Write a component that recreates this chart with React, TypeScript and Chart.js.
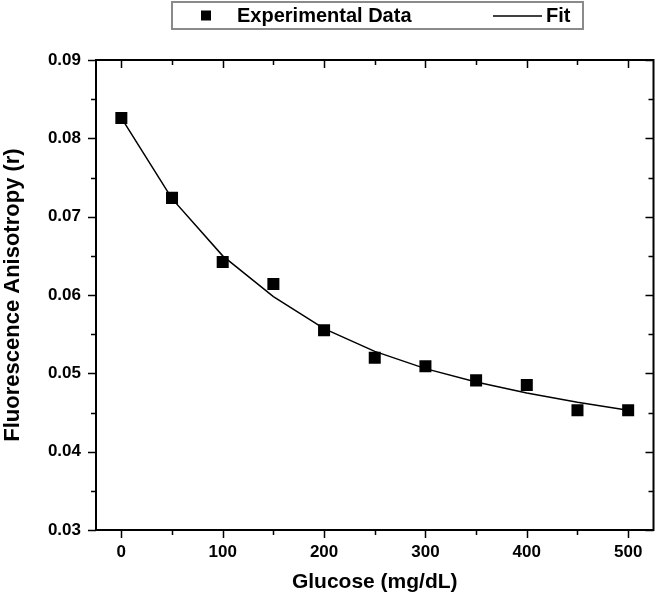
import React, { useEffect, useRef } from "react";
import { Chart, registerables } from "chart.js";

Chart.register(...registerables);

const glucose = [0, 50, 100, 150, 200, 250, 300, 350, 400, 450, 500];
const anisotropy = [0.0826, 0.0724, 0.0642, 0.0614, 0.0555, 0.052, 0.0509, 0.0491, 0.0485, 0.0453, 0.0453];
const fitValues = [0.0826, 0.0723, 0.065, 0.0598, 0.0557, 0.0528, 0.0506, 0.0489, 0.0475, 0.0463, 0.0453];
const xMajorTicks = [0, 100, 200, 300, 400, 500];
const xMinorTicks = [50, 150, 250, 350, 450];
const yMajorTicks = [0.03, 0.04, 0.05, 0.06, 0.07, 0.08, 0.09];
const yMinorTicks = [0.035, 0.045, 0.055, 0.065, 0.075, 0.085];
const seriesLabels = ["Experimental Data", "Fit"];

const FONT = "'Liberation Sans', Arial, sans-serif";

const framePlugin = {
  id: "frameTicks",
  afterDraw(chart: any) {
    const { ctx, chartArea } = chart;
    const xs = chart.scales.x;
    const ys = chart.scales.y;
    const { left, right, top, bottom } = chartArea;
    ctx.save();
    ctx.strokeStyle = "#000";
    ctx.lineWidth = 2;
    ctx.strokeRect(left, top, right - left, bottom - top);
    const major = 8;
    const minor = 5;
    ctx.lineWidth = 1.5;
    ctx.beginPath();
    const xTick = (v: number, len: number) => {
      const px = Math.round(xs.getPixelForValue(v)) + 0.5;
      ctx.moveTo(px, bottom);
      ctx.lineTo(px, bottom + len);
      ctx.moveTo(px, top);
      ctx.lineTo(px, top + len);
    };
    const yTick = (v: number, len: number) => {
      const py = Math.round(ys.getPixelForValue(v)) + 0.5;
      ctx.moveTo(left, py);
      ctx.lineTo(left - len, py);
      ctx.moveTo(right, py);
      ctx.lineTo(right - len, py);
    };
    xMajorTicks.forEach((v) => xTick(v, major));
    xMinorTicks.forEach((v) => xTick(v, minor));
    yMajorTicks.forEach((v) => yTick(v, major));
    yMinorTicks.forEach((v) => yTick(v, minor));
    ctx.stroke();
    ctx.restore();
  },
};

const legendPlugin = {
  id: "boxLegend",
  afterDraw(chart: any) {
    const { ctx } = chart;
    const ds = chart.data.datasets;
    ctx.save();
    const bx = 172;
    const by = 2;
    const bw = 411;
    const bh = 27;
    ctx.strokeStyle = "#8a8a8a";
    ctx.lineWidth = 2;
    ctx.strokeRect(bx, by, bw, bh);
    const cy = by + bh / 2;
    ctx.fillStyle = "#000";
    ctx.fillRect(201, cy - 5, 10, 10);
    ctx.font = `bold 20px ${FONT}`;
    ctx.textBaseline = "middle";
    ctx.textAlign = "left";
    ctx.fillText(ds[0].label, 237, cy + 1);
    ctx.strokeStyle = "#000";
    ctx.lineWidth = 1.5;
    ctx.beginPath();
    ctx.moveTo(493, cy + 0.5);
    ctx.lineTo(542, cy + 0.5);
    ctx.stroke();
    ctx.fillText(ds[1].label, 546, cy + 1);
    ctx.restore();
  },
};

export default function App() {
  const ref = useRef<HTMLCanvasElement>(null);
  useEffect(() => {
    document.body.style.margin = "0";
    const canvas = ref.current;
    if (!canvas) return;
    const chart = new Chart(canvas, {
      type: "scatter",
      data: {
        datasets: [
          {
            label: seriesLabels[0],
            data: glucose.map((x, i) => ({ x, y: anisotropy[i] })),
            pointStyle: "rect",
            pointRadius: 8.5,
            pointHoverRadius: 8.5,
            backgroundColor: "#000",
            borderColor: "#000",
            borderWidth: 0,
            showLine: false,
            order: 1,
          },
          {
            label: seriesLabels[1],
            data: glucose.map((x, i) => ({ x, y: fitValues[i] })),
            showLine: true,
            pointRadius: 0,
            borderColor: "#000",
            borderWidth: 1.5,
            tension: 0,
            order: 2,
          },
        ],
      },
      options: {
        responsive: false,
        animation: false,
        layout: { padding: { top: 60, right: 5, left: 0, bottom: 0 } },
        plugins: {
          legend: { display: false },
          tooltip: { enabled: false },
        },
        scales: {
          x: {
            type: "linear",
            min: -25,
            max: 525,
            grid: { display: false, drawTicks: false },
            border: { display: false },
            afterBuildTicks: (s: any) => {
              s.ticks = xMajorTicks.map((v) => ({ value: v }));
            },
            afterFit: (s: any) => {
              s.height = 70;
            },
            ticks: {
              padding: 12,
              color: "#000",
              font: { family: FONT, size: 17, weight: "bold" },
              callback: (v: any) => String(v),
              maxRotation: 0,
            },
            title: {
              display: true,
              text: "Glucose (mg/dL)",
              color: "#000",
              font: { family: FONT, size: 21, weight: "bold" },
              padding: { top: 0, bottom: 5 },
            },
          },
          y: {
            type: "linear",
            min: 0.03,
            max: 0.09,
            grid: { display: false, drawTicks: false },
            border: { display: false },
            afterBuildTicks: (s: any) => {
              s.ticks = yMajorTicks.map((v) => ({ value: v }));
            },
            afterFit: (s: any) => {
              s.width = 96;
            },
            ticks: {
              padding: 15,
              color: "#000",
              font: { family: FONT, size: 17, weight: "bold" },
              callback: (v: any) => Number(v).toFixed(2),
            },
            title: {
              display: true,
              text: "Fluorescence Anisotropy (r)",
              color: "#000",
              font: { family: FONT, size: 22, weight: "bold" },
              padding: { top: 0, bottom: 0 },
            },
          },
        },
      },
      plugins: [framePlugin, legendPlugin],
    });
    return () => chart.destroy();
  }, []);
  return (
    <div style={{ width: 662, height: 600, background: "#fff" }}>
      <canvas ref={ref} width={662} height={600} />
    </div>
  );
}
